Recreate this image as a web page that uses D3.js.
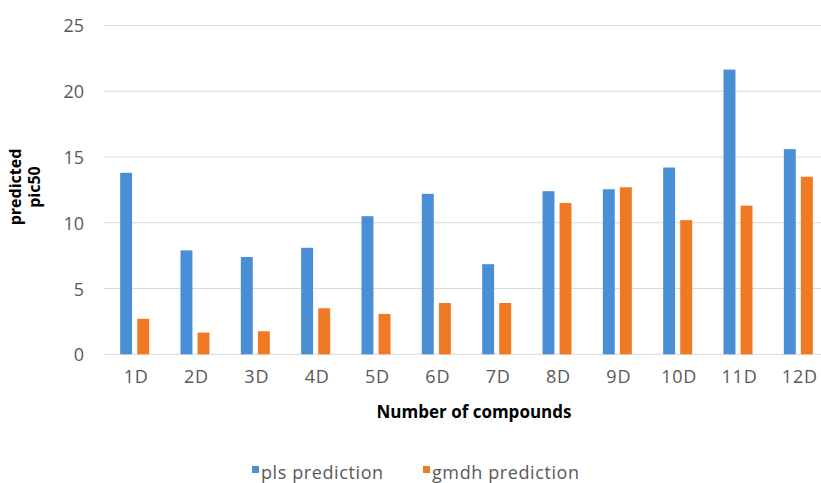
<!DOCTYPE html>
<html><head><meta charset="utf-8">
<script src="https://cdn.jsdelivr.net/npm/d3@7"></script>
<style>body{margin:0;background:#fff}svg{display:block}</style>
</head><body><svg id="c" width="821" height="483"></svg>
<script>
const categories = ["1D","2D","3D","4D","5D","6D","7D","8D","9D","10D","11D","12D"];
const plsValues  = [13.8, 7.9, 7.4, 8.1, 10.5, 12.2, 6.85, 12.4, 12.55, 14.2, 21.65, 15.6];
const gmdhValues = [2.7, 1.65, 1.75, 3.5, 3.07, 3.9, 3.9, 11.5, 12.7, 10.2, 11.3, 13.5];
const seriesNames = ["pls prediction", "gmdh prediction"];
const yTicks = [0, 5, 10, 15, 20, 25];

const colors = ["#4a8fd6", "#f07a24"];
const font = "'Open Sans', sans-serif";
const svg = d3.select("#c");
const x = d3.scaleBand().domain(categories).range([106, 830]);
const y = d3.scaleLinear().domain([0, 25]).range([354.3, 25.5]);
const sub = d3.scaleBand().domain([0, 1]).range([-14.5, 14.5]).paddingInner(0.3);

// gridlines
svg.append("g").selectAll("line").data(yTicks).join("line")
  .attr("x1", 104).attr("x2", 821)
  .attr("y1", d => y(d)).attr("y2", d => y(d))
  .attr("stroke", "#d9d9d9").attr("stroke-width", 1);

// y axis labels
const yAxis = d3.axisLeft(y).tickValues(yTicks).tickSize(0).tickPadding(0);
const gy = svg.append("g").attr("transform", "translate(84,0)").call(yAxis);
gy.select(".domain").remove();
gy.selectAll("text").attr("font-family", font).attr("font-size", 18).attr("fill", "#595959").attr("dy", "0.36em");

// x axis labels
const xAxis = d3.axisBottom(x).tickSize(0).tickPadding(0);
const gx = svg.append("g").attr("transform", "translate(0,370)").call(xAxis);
gx.select(".domain").remove();
gx.selectAll("text").attr("font-family", font).attr("font-size", 18).attr("letter-spacing", 0.8).attr("fill", "#595959").attr("dy", "0.71em");

// bars
const series = [plsValues, gmdhValues];
series.forEach((vals, si) => {
  svg.append("g").selectAll("rect").data(vals).join("rect")
    .attr("x", (d, i) => x(categories[i]) + x.bandwidth() / 2 - 1.5 + sub(si))
    .attr("width", sub.bandwidth())
    .attr("y", d => y(d))
    .attr("height", d => y(0) - y(d))
    .attr("fill", colors[si]);
});

// axis titles
svg.append("text").attr("x", 474).attr("y", 418).attr("text-anchor", "middle")
  .attr("font-family", font).attr("font-weight", "bold").attr("font-size", 17).attr("fill", "#000")
  .text("Number of compounds");
const yt = svg.append("text").attr("transform", "translate(0,187) rotate(-90)")
  .attr("text-anchor", "middle").attr("font-family", font).attr("font-weight", "bold")
  .attr("font-size", 16).attr("fill", "#000");
yt.append("tspan").attr("x", 0).attr("y", 21).text("predicted");
yt.append("tspan").attr("x", 0).attr("y", 40).text("pic50");

// legend
const legX = [252, 423];
seriesNames.forEach((n, i) => {
  svg.append("rect").attr("x", legX[i]).attr("y", 466).attr("width", 7).attr("height", 7).attr("fill", colors[i]);
  svg.append("text").attr("x", legX[i] + 9).attr("y", 479)
    .attr("font-family", font).attr("font-size", 18).attr("letter-spacing", 0.6).attr("fill", "#595959").text(n);
});
</script></body></html>
